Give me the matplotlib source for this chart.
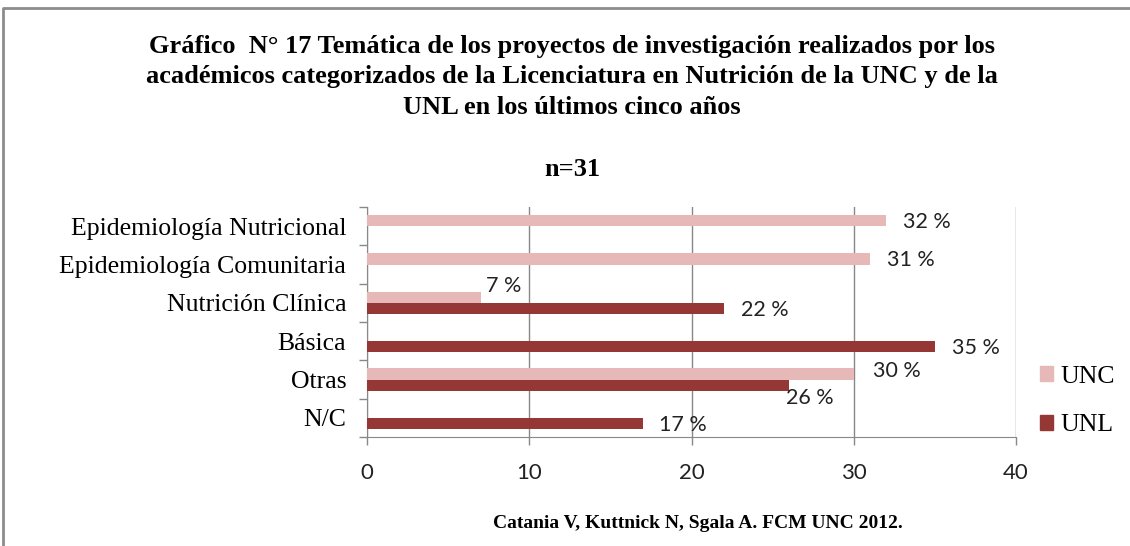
import numpy as np
import matplotlib
matplotlib.use("Agg")
import matplotlib.pyplot as plt
from matplotlib.patches import Patch
from matplotlib.lines import Line2D

# data
categorias = ["Epidemiología Nutricional", "Epidemiología Comunitaria",
              "Nutrición Clínica", "Básica", "Otras", "N/C"]
unc = [32, 31, 7, 0, 30, 0]
unl = [0, 0, 22, 35, 26, 17]
xticks = [0, 10, 20, 30, 40]

titulo = ("Gráfico  N° 17 Temática de los proyectos de investigación realizados por los\n"
          "académicos categorizados de la Licenciatura en Nutrición de la UNC y de la\n"
          "UNL en los últimos cinco años")
subtitulo = "n=31"
fuente = "Catania V, Kuttnick N, Sgala A. FCM UNC 2012."

c_unc = "#E6B9B8"
c_unl = "#953735"
serif = "Liberation Serif"
sans = "Lato"

fig = plt.figure(figsize=(11.30, 5.46), dpi=100)
ax = fig.add_axes([367/1130, 1 - 437/546, (1016 - 367)/1130, (437 - 207)/546])

y = np.arange(len(categorias))
h = 0.29
ax.barh(y - h/2, unc, height=h, color=c_unc, zorder=3)
ax.barh(y + h/2, unl, height=h, color=c_unl, zorder=3)

ax.set_xlim(0, 40)
ax.set_ylim(len(categorias) - 0.5, -0.5)
ax.set_xticks(xticks)
ax.set_xticklabels([str(t) for t in xticks], fontfamily=sans, fontsize=16, color="#222222")
ax.set_yticks(np.arange(len(categorias) + 1) - 0.5, minor=False)
ax.set_yticklabels([])
ax.set_yticks(y, minor=True)
ax.set_yticklabels(categorias, minor=True, fontfamily=serif, fontsize=18.5)
ax.tick_params(axis="y", which="minor", length=0, pad=15)
ax.tick_params(axis="y", which="major", length=6, color="#888888", width=1)
ax.tick_params(axis="x", length=6, color="#888888", width=1, pad=13)

ax.grid(axis="x", color="#888888", linewidth=1, zorder=0)
for s in ["top", "right"]:
    ax.spines[s].set_visible(False)
for s in ["left", "bottom"]:
    ax.spines[s].set_color("#888888")

# data labels (Excel placed a few of them by hand)
nudge = {("unc", 2): (4, 8), ("unl", 4): (-2, -9), ("unc", 4): (14, 2)}
for serie, vals, off in (("unc", unc, -h/2), ("unl", unl, h/2)):
    for i, v in enumerate(vals):
        if v == 0:
            continue
        dx, dy = nudge.get((serie, i), (12, -1))
        ax.annotate(f"{v} %", (v, i + off), xytext=(dx, dy), textcoords="offset points",
                    ha="left", va="center", fontfamily=sans, fontsize=15.5, color="#222222")

leg = ax.legend(handles=[Patch(color=c_unc, label="UNC"), Patch(color=c_unl, label="UNL")],
                loc="center left", bbox_to_anchor=(1040/1130, 1 - 401/546),
                bbox_transform=fig.transFigure, frameon=False, borderpad=0,
                borderaxespad=0, handlelength=0.5, handleheight=0.5,
                handletextpad=0.3, labelspacing=1.05,
                prop={"family": serif, "size": 18.5})

fig.text(572/1130, 1 - 77/546, titulo, ha="center", va="center", fontfamily=serif,
         fontweight="bold", fontsize=19, linespacing=1.42)
fig.text(572/1130, 1 - 170/546, subtitulo, ha="center", va="center", fontfamily=serif,
         fontweight="bold", fontsize=19)
fig.text(698/1130, 1 - 523/546, fuente, ha="center", va="center", fontfamily=serif,
         fontweight="bold", fontsize=14)

# outer frame of the original chart area
fig.add_artist(Line2D([3/1130, 3/1130, 1], [0, 1 - 8/546, 1 - 8/546],
                      transform=fig.transFigure, color="#8c8c8c", linewidth=2))

fig.savefig("out.png", dpi=100)
